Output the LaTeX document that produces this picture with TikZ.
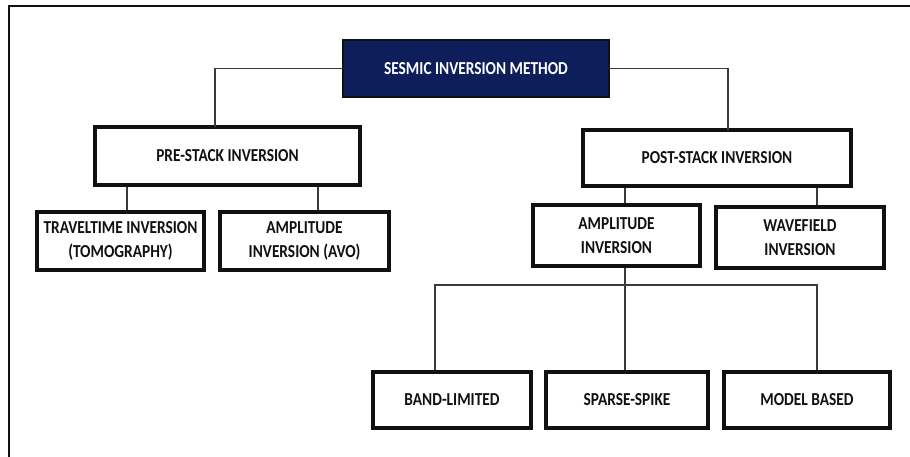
\documentclass[tikz,border=0pt]{standalone}
\usepackage{fontspec}
\setmainfont{Carlito}[FakeStretch=0.84]
\usetikzlibrary{positioning}
\definecolor{Navy}{HTML}{0D1E5A}
\definecolor{WireGrey}{HTML}{3A3A3A}
\definecolor{InkBlack}{HTML}{111111}
\begin{document}
\begin{tikzpicture}[x=0.2mm,y=-0.2mm,every node/.style={font=\fontsize{10.4}{13.6}\selectfont\bfseries,text=InkBlack,align=center,inner sep=0pt},
  boxnode/.style={draw=InkBlack,line width=2.2pt,fill=white},
  wire/.style={WireGrey,line width=0.7pt}]
\useasboundingbox (0,0) rectangle (910,457);
\draw[InkBlack,line width=1.3pt] (9,457)--(9,6)--(910,6);
% drop points of the connectors
\coordinate (preTop) at (215,127); \coordinate (postTop) at (728,130);
\coordinate (travTop) at (127,212); \coordinate (avoTop) at (318,212);
\coordinate (ampTop) at (625,205); \coordinate (waveTop) at (817,207);
\coordinate (bandTop) at (435,372); \coordinate (sparseTop) at (625,372); \coordinate (modelTop) at (817,372);
\coordinate (fork) at (625,285);
\node[draw=InkBlack,fill=Navy,line width=0.8pt,text=white,minimum width=53.2mm,minimum height=11.4mm] (title) at (476,68.5){SESMIC INVERSION METHOD};
\node[boxnode,minimum width=53mm,minimum height=11.6mm] (pre) at (227.5,156){PRE-STACK INVERSION};
\node[boxnode,minimum width=53.6mm,minimum height=11.2mm] (post) at (717,158){POST-STACK INVERSION};
\draw[wire] (title.west)-|(preTop); \draw[wire] (title.east)-|(postTop);
\draw[wire] (travTop)--(travTop|-pre.south); \draw[wire] (avoTop)--(avoTop|-pre.south);
\draw[wire] (ampTop)--(ampTop|-post.south); \draw[wire] (waveTop)--(waveTop|-post.south);
\draw[wire] (fork)--(fork|-ampTop);
\draw[wire] (bandTop)|-(fork)-|(modelTop); \draw[wire] (fork)--(sparseTop);
\node[boxnode,minimum width=33.4mm,minimum height=11.6mm] (travel) at (120.5,241){TRAVELTIME INVERSION\\(TOMOGRAPHY)};
\node[boxnode,minimum width=33.8mm,minimum height=11.6mm] (avo) at (304.5,241){AMPLITUDE\\INVERSION (AVO)};
\node[boxnode,minimum width=33.4mm,minimum height=12.2mm] (ampinv) at (616.5,235.5){AMPLITUDE\\INVERSION};
\node[boxnode,minimum width=33.6mm,minimum height=12.2mm] (wave) at (800,237.5){WAVEFIELD\\INVERSION};
\node[boxnode,minimum width=31.6mm,minimum height=11.2mm] (band) at (452,400){BAND-LIMITED};
\node[boxnode,minimum width=32.4mm,minimum height=11.2mm] (sparse) at (627,400){SPARSE-SPIKE};
\node[boxnode,minimum width=33.2mm,minimum height=11.2mm] (model) at (807,400){MODEL BASED};
\end{tikzpicture}
\end{document}
